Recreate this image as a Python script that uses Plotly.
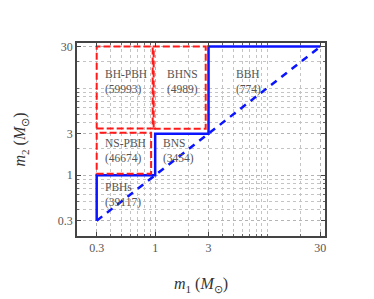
import numpy as np
import plotly.graph_objects as go

# ---- data ----
boundaries = [0.3, 1, 3, 30]                      # mass boundaries (M_sun)
region_names = ["PBHs", "NS-PBH", "BNS", "BH-PBH", "BHNS", "BBH"]
region_counts = [39117, 46674, 3454, 59993, 4989, 774]
# red dashed boxes (x0, x1, y0, y1)
box_x0 = [0.3, 0.3, 0.97]
box_x1 = [0.92, 0.95, 2.83]
box_y0 = [1.04, 3.44, 3.42]
box_y1 = [3.08, 30, 30]
tick_vals = [0.3, 1, 3, 30]
tick_text = ["0.3", "1", "3", "30"]

# ---- figure ----
fig = go.Figure()

# blue staircase built from boundaries
sx, sy = [boundaries[0]], [boundaries[0]]
for i in range(1, len(boundaries)):
    sx.append(boundaries[i - 1]); sy.append(boundaries[i])
    sx.append(boundaries[i]); sy.append(boundaries[i])
fig.add_trace(go.Scatter(x=sx, y=sy, mode="lines",
                         line=dict(color="#0a14ff", width=2.5), hoverinfo="skip"))
# diagonal m1 = m2
fig.add_trace(go.Scatter(x=[boundaries[0], boundaries[-1]], y=[boundaries[0], boundaries[-1]],
                         mode="lines", line=dict(color="#0a14ff", width=2.5, dash="7px,6px"),
                         hoverinfo="skip"))
# red dashed boxes
for x0, x1, y0, y1 in zip(box_x0, box_x1, box_y0, box_y1):
    fig.add_trace(go.Scatter(x=[x0, x1, x1, x0, x0], y=[y0, y0, y1, y1, y0], mode="lines",
                             line=dict(color="#ff1a1a", width=2, dash="7px,3px"),
                             hoverinfo="skip"))

# label positions (data coords of left edge / vertical centre)
lab_x = [0.34, 0.34, 1.12, 0.34, 1.22, 5.07]
lab_y = [0.596, 1.89, 1.89, 11.85, 11.85, 11.85]
for name, cnt, lx, ly in zip(region_names, region_counts, lab_x, lab_y):
    fig.add_annotation(x=np.log10(lx), y=np.log10(ly), text="%s<br>(%d)" % (name, cnt),
                       showarrow=False, xanchor="left", yanchor="middle", align="left",
                       font=dict(family="Liberation Serif", size=11.5, color="#555555"))

axis_common = dict(
    type="log", range=[np.log10(0.2), np.log10(33)],
    tickmode="array", tickvals=tick_vals, ticktext=tick_text,
    ticks="inside", ticklen=4, tickcolor="#444",
    showline=True, linecolor="#444", linewidth=1.5, mirror="allticks",
    showgrid=True, gridcolor="#b4b4b4", griddash="dot", gridwidth=1,
    zeroline=False,
    tickfont=dict(family="Liberation Serif", size=12, color="#555555"),
    minor=dict(dtick="D1", showgrid=True, gridcolor="#c4c4c4", griddash="dot",
               gridwidth=1, ticks="inside", ticklen=2, tickcolor="#666"),
)
fig.update_xaxes(**axis_common,
                 title=dict(text="<i>m</i><sub>1</sub> (<i>M</i><sub>⊙</sub>)", standoff=24,
                            font=dict(family="Liberation Serif", size=16, color="#333")))
fig.update_yaxes(**axis_common,
                 title=dict(text="<i>m</i><sub>2</sub> (<i>M</i><sub>⊙</sub>)", standoff=28,
                            font=dict(family="Liberation Serif", size=16, color="#333")))

fig.update_layout(width=374, height=299, showlegend=False,
                  margin=dict(l=69, r=57, t=35, b=71, autoexpand=False),
                  plot_bgcolor="white", paper_bgcolor="white")

fig.write_html("out.html")
